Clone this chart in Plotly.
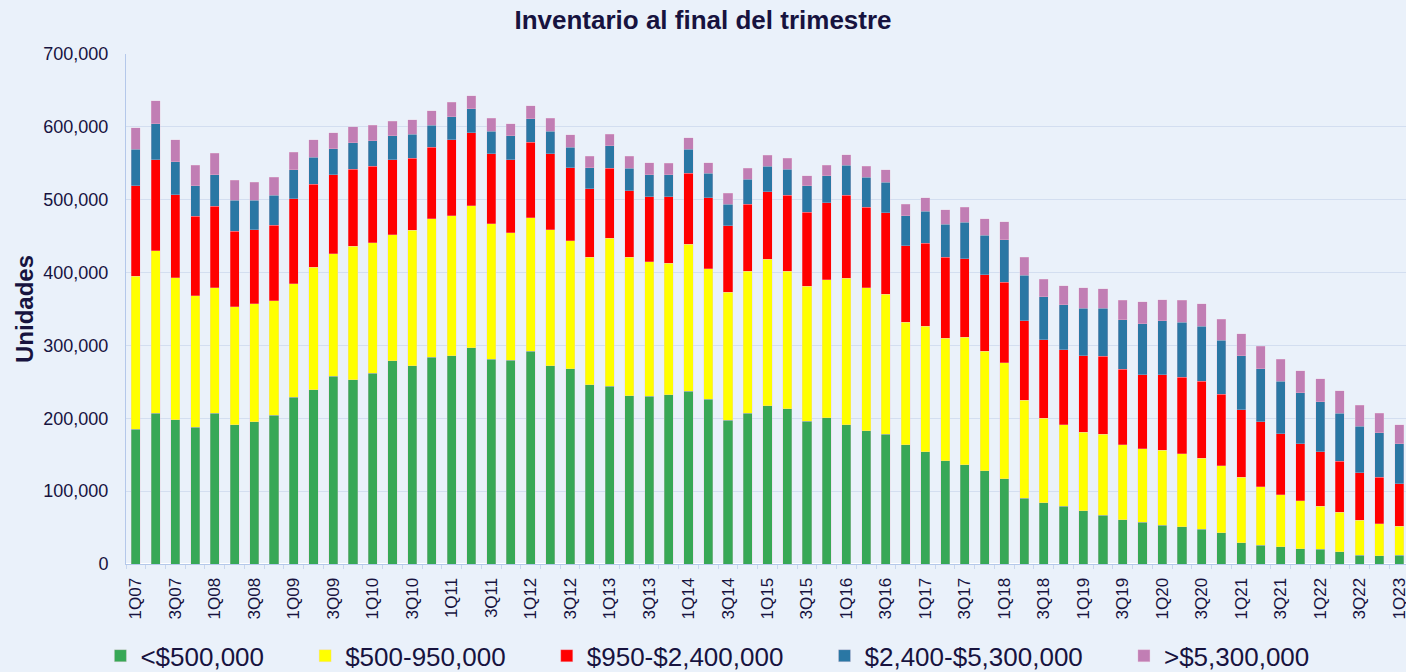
import plotly.graph_objects as go

quarters = [f"{q}Q{y:02d}" for y in range(7, 23) for q in range(1, 5)] + ["1Q23"]

under_500k = [185, 207, 198, 188, 207, 191, 195, 204, 229, 239, 258, 253, 262, 279, 272, 284,
              286, 297, 281, 280, 292, 272, 268, 246, 244, 231, 230, 232, 237, 226, 197, 207,
              217, 213, 196, 201, 191, 183, 178, 164, 154, 142, 136, 128, 117, 90, 84, 79,
              73, 67, 61, 57, 53, 51, 48, 43, 29, 26, 24, 21, 20, 17, 12, 11, 12]
r500_950k = [210, 223, 195, 180, 172, 162, 162, 157, 156, 168, 168, 183, 179, 173, 186, 190,
             192, 195, 186, 175, 183, 187, 176, 175, 203, 190, 185, 181, 202, 179, 176, 195,
             201, 189, 185, 189, 201, 196, 192, 168, 172, 168, 175, 164, 159, 135, 116, 112,
             108, 111, 103, 101, 103, 100, 97, 92, 90, 80, 71, 66, 59, 54, 48, 44, 40]
r950_2400k = [124, 125, 114, 109, 112, 104, 102, 104, 116, 114, 108, 106, 105, 103, 99, 98,
              104, 100, 96, 100, 104, 104, 100, 94, 96, 91, 89, 91, 97, 98, 91, 92,
              93, 104, 102, 106, 114, 111, 112, 105, 114, 111, 108, 105, 111, 109, 108, 103,
              105, 107, 103, 102, 104, 105, 106, 98, 93, 89, 84, 78, 75, 70, 65, 64, 58]
r2400_5300k = [50, 49, 45, 42, 43, 42, 40, 41, 40, 37, 36, 36, 35, 33, 33, 30,
               32, 33, 31, 33, 32, 31, 28, 29, 31, 31, 30, 30, 33, 33, 30, 34,
               35, 36, 36, 37, 41, 41, 42, 41, 44, 45, 50, 54, 58, 62, 59, 62,
               65, 66, 68, 70, 74, 76, 75, 74, 74, 73, 72, 70, 69, 66, 64, 61, 55]
over_5300k = [30, 32, 30, 28, 30, 28, 25, 25, 24, 24, 22, 22, 21, 20, 20, 20,
              20, 18, 18, 16, 18, 18, 17, 16, 16, 17, 17, 16, 16, 15, 15, 15,
              15, 15, 14, 14, 15, 15, 17, 16, 19, 20, 21, 23, 25, 25, 24, 26,
              28, 27, 27, 30, 29, 30, 31, 29, 30, 31, 30, 30, 31, 31, 29, 27, 26]

series_names = ["<$500,000", "$500-950,000", "$950-$2,400,000", "$2,400-$5,300,000", ">$5,300,000"]
series_values = [under_500k, r500_950k, r950_2400k, r2400_5300k, over_5300k]
series_colors = ["#37A856", "#FFFF00", "#FF0000", "#2A77A4", "#C17EB4"]

tick_text = [q if i % 2 == 0 else "" for i, q in enumerate(quarters)]

navy = "#17133F"
bg = "#EAF1FA"
pad = "\u00a0" * 5

fig = go.Figure()
for name, vals, color in zip(series_names, series_values, series_colors):
    fig.add_trace(go.Bar(
        x=quarters, y=[v * 1000 for v in vals], name=name + pad,
        marker=dict(color=color, line=dict(color="rgba(240,200,220,0.6)", width=0.5)),
    ))

fig.update_layout(
    barmode="stack",
    bargap=0.54,
    width=1406, height=672,
    paper_bgcolor=bg, plot_bgcolor=bg,
    margin=dict(l=126, r=0, t=54, b=108, autoexpand=False),
    font=dict(family="Liberation Sans, Arial, sans-serif", color=navy),
    title=dict(text="<b>Inventario al final del trimestre</b>", x=0.5, xanchor="center",
               y=0.97, yanchor="middle", yref="container",
               font=dict(size=26, color=navy)),
    yaxis=dict(range=[0, 700000], dtick=100000, tickformat=",d",
               showgrid=True, gridcolor="#D3DEF0", gridwidth=1,
               showline=True, linecolor="#B4C8EA", linewidth=1,
               tickfont=dict(size=18, color=navy), ticks="", ticklabelstandoff=13,
               title=dict(text="<b>Unidades</b>", font=dict(size=24, color=navy), standoff=2)),
    xaxis=dict(type="category", range=[-0.5, 64.35],
               tickmode="array", tickvals=quarters, ticktext=tick_text,
               tickangle=-90, tickfont=dict(size=17, color=navy),
               tickson="boundaries", ticklabelstandoff=6,
               showline=True, linecolor="#B4C8EA", linewidth=1,
               ticks="outside", ticklen=4, tickcolor="#C8D6EE", showgrid=False),
    legend=dict(orientation="h", x=-0.02, xanchor="left", y=-0.18, yanchor="middle",
                font=dict(size=26, color=navy), bgcolor="rgba(0,0,0,0)",
                traceorder="normal", itemwidth=30),
    showlegend=True,
)

fig.write_html("out.html", config={"displayModeBar": False},
               post_script="document.body.style.margin='0';document.body.style.overflow='hidden';")
